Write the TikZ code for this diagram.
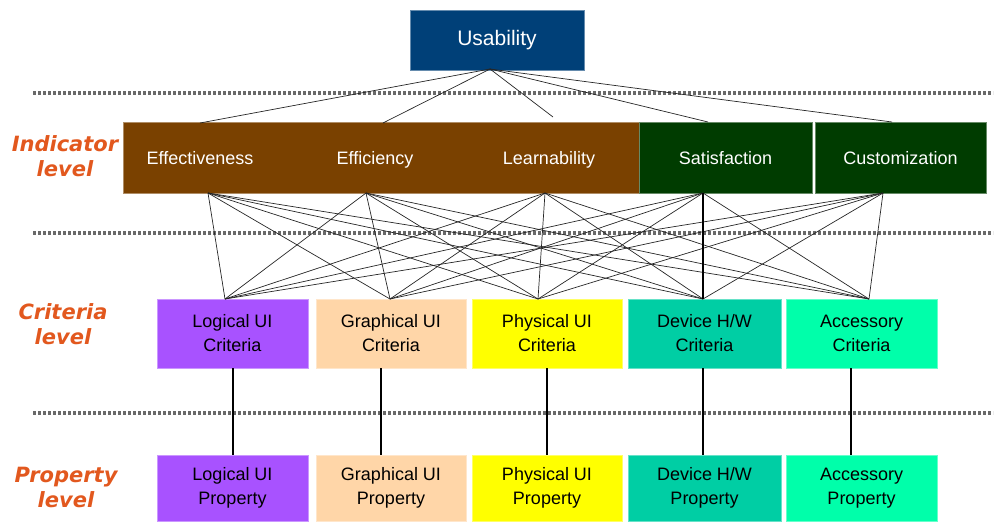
\documentclass[tikz,border=0pt]{standalone}
\usepackage{fontspec}
\setmainfont{Liberation Sans}
\newfontfamily\levelfont{DejaVu Sans}
\definecolor{usablue}{RGB}{0,64,120}
\definecolor{indbrown}{RGB}{122,65,0}
\definecolor{indgreen}{RGB}{0,60,0}
\definecolor{logpurple}{RGB}{168,82,255}
\definecolor{grpeach}{RGB}{255,214,168}
\definecolor{phyellow}{RGB}{255,255,0}
\definecolor{devteal}{RGB}{0,206,164}
\definecolor{accmint}{RGB}{0,255,170}
\definecolor{levelred}{RGB}{226,88,30}
\definecolor{sepgray}{RGB}{105,105,105}
\begin{document}
\begin{tikzpicture}[x=1pt,y=-1pt,
  box/.style={rectangle, inner sep=0pt, line width=0.8pt, align=center,
    font=\fontsize{18}{24}\selectfont},
  onebox/.style={box, text height=13pt, text depth=0pt},
  cbox/.style={box, minimum height=69pt},
  pbox/.style={box, minimum height=66pt},
  intext/.style={inner sep=0pt, text=white, text height=13pt, text depth=4pt,
    font=\fontsize{18}{24}\selectfont},
  levellabel/.style={inner sep=0pt, align=center, text=levelred,
    font=\levelfont\bfseries\itshape\fontsize{21}{25}\selectfont},
  separator/.style={sepgray, line width=3.6pt, dash pattern=on 3.4pt off 1.6pt},
  link/.style={black!85, line width=0.7pt},
  drop/.style={black, line width=1.3pt}]
\useasboundingbox (0,0) rectangle (995,522);

% separators between the levels
\draw[separator] (33,93) -- (993,93);
\draw[separator] (33,233) -- (993,233);
\draw[separator] (33,413) -- (993,413);

% top goal
\node[box, fill=usablue, draw=usablue!60!white, text=white,
  minimum width=174pt, minimum height=60pt, text height=15pt, text depth=5pt,
  font=\fontsize{21}{24}\selectfont] (usab) at (497,40) {Usability};

% indicator level
\node[box, fill=indbrown, draw=indbrown!60!white,
  minimum width=516pt, minimum height=71pt] (brownband) at (381,157.5) {};
\node[intext] (effect) at (200,159.5) {Effectiveness};
\node[intext] (effic) at (375,159.5) {Efficiency};
\node[intext] (learn) at (549,159.5) {Learnability};
\node[onebox, fill=indgreen, draw=indgreen!60!white, text=white,
  minimum width=173pt, minimum height=71pt] (satisf) at (725.5,157.5) {Satisfaction};
\node[onebox, fill=indgreen, draw=indgreen!60!white, text=white,
  minimum width=171pt, minimum height=71pt] (custom) at (900.5,157.5) {Customization};

% criteria level
\node[cbox, fill=logpurple, draw=logpurple!60!white, minimum width=151pt]
  (logc) at (232.5,333.5) {Logical UI\\Criteria};
\node[cbox, fill=grpeach, draw=grpeach!60!white, minimum width=150pt]
  (grac) at (391,333.5) {Graphical UI\\Criteria};
\node[cbox, fill=phyellow, draw=phyellow!60!white, minimum width=150pt]
  (phyc) at (547,333.5) {Physical UI\\Criteria};
\node[cbox, fill=devteal, draw=devteal!60!white, minimum width=153pt]
  (devc) at (704.5,333.5) {Device H/W\\Criteria};
\node[cbox, fill=accmint, draw=accmint!60!white, minimum width=151pt]
  (accc) at (861.5,333.5) {Accessory\\Criteria};

% property level
\node[pbox, fill=logpurple, draw=logpurple!60!white, minimum width=151pt]
  (logp) at (232.5,488) {Logical UI\\Property};
\node[pbox, fill=grpeach, draw=grpeach!60!white, minimum width=150pt]
  (grap) at (391,488) {Graphical UI\\Property};
\node[pbox, fill=phyellow, draw=phyellow!60!white, minimum width=150pt]
  (phyp) at (547,488) {Physical UI\\Property};
\node[pbox, fill=devteal, draw=devteal!60!white, minimum width=153pt]
  (devp) at (704.5,488) {Device H/W\\Property};
\node[pbox, fill=accmint, draw=accmint!60!white, minimum width=151pt]
  (accp) at (861.5,488) {Accessory\\Property};

% level names
\node[levellabel] (indlevel) at (65,156) {Indicator\\level};
\node[levellabel] (crilevel) at (63,324) {Criteria\\level};
\node[levellabel] (prolevel) at (66,487) {Property\\level};

% attachment points of the connectors
\coordinate (usabB) at (490,69);
\coordinate (effectT) at (200,123);
\coordinate (efficT) at (383,123);
\coordinate (learnT) at (553,117);
\coordinate (satisfT) at (708,122);
\coordinate (customT) at (892,122);
\coordinate (effectB) at (208,193);
\coordinate (efficB) at (366,193);
\coordinate (learnB) at (545,193);
\coordinate (satisfB) at (703,193);
\coordinate (customB) at (883,193);
\coordinate (logcT) at (225,299);
\coordinate (gracT) at (390,299);
\coordinate (phycT) at (538,299);
\coordinate (devcT) at (703,299);
\coordinate (acccT) at (869,299);

% usability to indicators
\foreach \i in {effect,effic,learn,satisf,custom}
  \draw[link] (usabB) -- (\i T);

% every indicator to every criterion
\foreach \i in {effect,effic,learn,satisf,custom}
  \foreach \c in {logc,grac,phyc,devc,accc}
    \draw[link] (\i B) -- (\c T);
\draw[line width=1.4pt] (satisfB) -- (devcT);

% criteria to properties
\draw[drop] (logc.south -| 233,0) -- (logp.north -| 233,0);
\draw[drop] (grac.south -| 381,0) -- (grap.north -| 381,0);
\draw[drop] (phyc.south -| 547,0) -- (phyp.north -| 547,0);
\draw[drop] (devc.south -| 703,0) -- (devp.north -| 703,0);
\draw[drop] (accc.south -| 851,0) -- (accp.north -| 851,0);
\end{tikzpicture}
\end{document}
